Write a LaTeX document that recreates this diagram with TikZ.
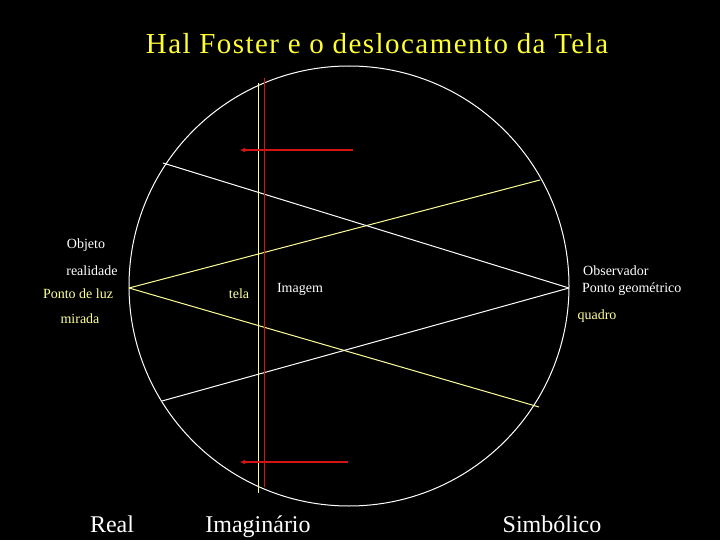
\documentclass[tikz,border=0pt]{standalone}
\usepackage{fontspec}
\setmainfont{Liberation Serif}
\newfontfamily\titlefont[LetterSpace=5]{Liberation Serif}
\usetikzlibrary{arrows.meta}

\definecolor{palejaune}{RGB}{255,255,153}
\definecolor{jaune}{RGB}{255,255,51}
\definecolor{rouge}{RGB}{210,20,20}

\begin{document}
\begin{tikzpicture}[x=1pt, y=-1pt,
  lbl/.style={font=\fontsize{14}{16}\selectfont, inner sep=0pt},
  big/.style={font=\fontsize{24}{28}\selectfont, inner sep=0pt, anchor=base, white},
  ray/.style={line width=1pt},
  fleche/.style={rouge, line width=2.4pt, -{Latex[length=5pt,width=5pt]}}]

\fill[black] (0,0) rectangle (720,540);
\useasboundingbox (0,0) rectangle (720,540);

% titre
\node[jaune, anchor=base, inner sep=0pt, font=\titlefont\fontsize{29}{33}\selectfont] (titre) at (377,54) {Hal Foster e o deslocamento da Tela};

% cercle
\coordinate (centre) at (349,286);
\draw[white, line width=1pt] (centre) circle (220);

% points
\coordinate (luz) at (129,288);
\coordinate (obs) at (569,288);
\coordinate (hautD) at (540,180);
\coordinate (basD) at (539,407);
\coordinate (hautG) at (163,163);
\coordinate (basG) at (162,401);

\draw[ray, palejaune] (luz) -- (hautD);
\draw[ray, palejaune] (luz) -- (basD);
\draw[ray, white] (obs) -- (hautG);
\draw[ray, white] (obs) -- (basG);

% ecran
\coordinate (telaH) at (258,83);
\coordinate (telaB) at (258,493);
\coordinate (rougeH) at (264,78);
\coordinate (rougeB) at (264,487);
\draw[ray, palejaune] (telaH) -- (telaB);
\draw[ray, rouge] (rougeH) -- (rougeB);

% fleches
\coordinate (f1a) at (353,150);
\coordinate (f1b) at (240,150);
\coordinate (f2a) at (348,462);
\coordinate (f2b) at (240,462);
\draw[fleche] (f1a) -- (f1b);
\draw[fleche] (f2a) -- (f2b);

% etiquettes
\node[lbl, white] (objeto) at (86,245) {Objeto};
\node[lbl, white] (realidade) at (92,271) {realidade};
\node[lbl, palejaune] (luzlbl) at (78,294) {Ponto de luz};
\node[lbl, palejaune] (mirada) at (80,319) {mirada};
\node[lbl, palejaune] (tela) at (239,294) {tela};
\node[lbl, white] (imagem) at (300,289) {Imagem};
\node[lbl, white, anchor=west] (observador) at (583,271) {Observador};
\node[lbl, white, anchor=west] (geom) at (582,289) {Ponto geom\'etrico};
\node[lbl, palejaune] (quadro) at (597,316) {quadro};

% registres
\node[big] (real) at (112,532) {Real};
\node[big] (imag) at (258,532) {Imagin\'ario};
\node[big] (simb) at (552,532) {Simb\'olico};

\end{tikzpicture}
\end{document}
